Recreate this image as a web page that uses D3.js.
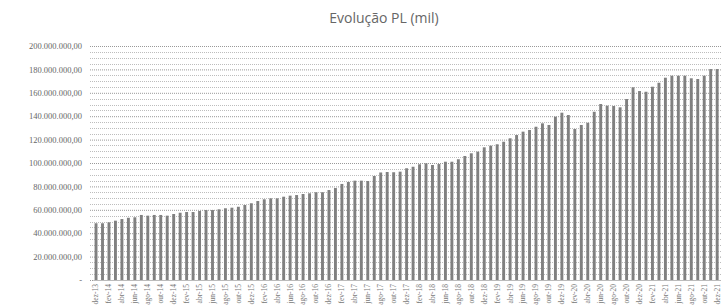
<!DOCTYPE html>
<html><head><meta charset="utf-8">
<script src="https://cdn.jsdelivr.net/npm/d3@7"></script>
<style>body{margin:0;background:#fff}svg{display:block}</style>
</head><body><div id="chart"></div>
<script>
const title = "Evolução PL (mil)";
const months = [
"dez-13","jan-14","fev-14","mar-14","abr-14","mai-14","jun-14","jul-14","ago-14","set-14","out-14","nov-14","dez-14",
"jan-15","fev-15","mar-15","abr-15","mai-15","jun-15","jul-15","ago-15","set-15","out-15","nov-15","dez-15",
"jan-16","fev-16","mar-16","abr-16","mai-16","jun-16","jul-16","ago-16","set-16","out-16","nov-16","dez-16",
"jan-17","fev-17","mar-17","abr-17","mai-17","jun-17","jul-17","ago-17","set-17","out-17","nov-17","dez-17",
"jan-18","fev-18","mar-18","abr-18","mai-18","jun-18","jul-18","ago-18","set-18","out-18","nov-18","dez-18",
"jan-19","fev-19","mar-19","abr-19","mai-19","jun-19","jul-19","ago-19","set-19","out-19","nov-19","dez-19",
"jan-20","fev-20","mar-20","abr-20","mai-20","jun-20","jul-20","ago-20","set-20","out-20","nov-20","dez-20",
"jan-21","fev-21","mar-21","abr-21","mai-21","jun-21","jul-21","ago-21","set-21","out-21","nov-21","dez-21"];
const plMillions = [
48.5,48.5,49.3,50.7,52.1,53.2,53.6,55.6,55.0,55.6,55.6,55.0,56.4,
57.5,58.1,58.1,59.0,59.8,59.8,60.4,61.3,61.8,62.6,64.1,65.6,
67.5,69.0,69.8,69.8,71.2,72.1,72.6,73.5,74.1,75.0,75.0,76.9,
78.6,82.1,83.8,84.9,84.9,84.6,88.9,91.9,92.3,92.1,92.6,95.5,
96.8,98.9,99.7,98.3,99.1,101.1,101.1,103.2,106.0,108.3,109.7,113.4,
114.8,116.0,118.2,121.1,123.9,126.8,128.2,131.0,133.9,132.5,139.6,143.0,
141.0,129.1,132.5,134.4,143.8,150.4,149.0,148.7,147.6,154.7,164.7,161.5,
160.9,165.2,168.6,172.9,174.6,174.6,174.6,172.4,171.8,174.6,180.3,180.3];
const yTicks = [0,20e6,40e6,60e6,80e6,100e6,120e6,140e6,160e6,180e6,200e6];
const yTickLabels = ["-","20.000.000,00","40.000.000,00","60.000.000,00","80.000.000,00","100.000.000,00",
  "120.000.000,00","140.000.000,00","160.000.000,00","180.000.000,00","200.000.000,00"];

const W = 721, H = 307;
const data = months.map((m,i)=>({m, v: plMillions[i]*1e6}));
const svg = d3.select("#chart").append("svg").attr("width",W).attr("height",H);

const x = d3.scaleBand().domain(months).range([92.8, 720.4]).paddingInner(0.55).paddingOuter(0.275);
const y = d3.scaleLinear().domain([0, 200e6]).range([280, 46]);

// minor gridlines
const minor = d3.range(0, 200e6 + 1, 5e6).filter(v => v % 20e6 !== 0);
svg.append("g").selectAll("line").data(minor).join("line")
  .attr("x1", 90).attr("x2", W).attr("y1", d=>Math.round(y(d))+0.5).attr("y2", d=>Math.round(y(d))+0.5)
  .attr("stroke", "#bdbdbd").attr("stroke-width", 1).attr("stroke-dasharray", "1,1");

// major gridlines via axis
const yAxis = d3.axisLeft(y).tickValues(yTicks).tickSize(-(W-90)).tickFormat((d,i)=>yTickLabels[i]).tickPadding(8);
const gy = svg.append("g").attr("transform","translate(90,0)").call(yAxis);
gy.select(".domain").remove();
gy.selectAll(".tick line").attr("stroke","#999").attr("stroke-dasharray","1,1");
gy.selectAll(".tick text").attr("fill","#666").style("font-family","'Liberation Serif', serif").style("font-size","8.5px");

// bars
svg.append("g").selectAll("rect").data(data).join("rect")
  .attr("x", d=>x(d.m)).attr("width", x.bandwidth())
  .attr("y", d=>y(d.v)).attr("height", d=>y(0)-y(d.v))
  .attr("fill", "#808080");

// x axis
const xAxis = d3.axisBottom(x).tickValues(months.filter((m,i)=>i%2===0)).tickSize(0).tickPadding(4);
const gx = svg.append("g").attr("transform","translate(0,280)").call(xAxis);
gx.select(".domain").attr("stroke","#bbb");
gx.selectAll(".tick text")
  .attr("transform","rotate(-90)").attr("text-anchor","end")
  .attr("x",-4).attr("y",0).attr("dy","0.32em")
  .attr("fill","#777").style("font-family","'Liberation Serif', serif").style("font-size","7.5px");

svg.append("text").attr("x",384).attr("y",23).attr("text-anchor","middle")
  .attr("fill","#666").style("font-family","'Open Sans', sans-serif").style("font-size","14px")
  .text(title);
</script></body></html>
